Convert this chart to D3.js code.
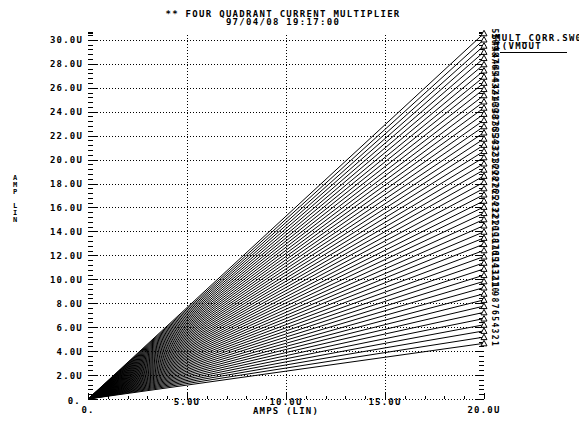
<!DOCTYPE html>
<html>
<head>
<meta charset="utf-8">
<script src="https://cdn.jsdelivr.net/npm/d3@7"></script>
<style>
  body { margin: 0; background: #fff; overflow: hidden; }
  svg { display: block; }
  text { font-family: 'DejaVu Sans Mono', monospace; font-weight: bold; fill: #000; }
</style>
</head>
<body>
<svg id="chart" width="579" height="423"></svg>
<script>
'use strict';

// curve end values (uA) at x = 20uA, curve 1 .. 51
var curveIds = d3.range(1, 52);
var curveEnds = [
  4.65, 5.17, 5.69, 6.20, 6.72, 7.24, 7.76, 8.28, 8.79, 9.31,
  9.83, 10.35, 10.87, 11.38, 11.90, 12.42, 12.94, 13.46, 13.97, 14.49,
  15.01, 15.53, 16.05, 16.56, 17.08, 17.60, 18.12, 18.64, 19.15, 19.67,
  20.19, 20.71, 21.23, 21.74, 22.26, 22.78, 23.30, 23.82, 24.33, 24.85,
  25.37, 25.89, 26.41, 26.92, 27.44, 27.96, 28.48, 29.00, 29.51, 30.03,
  30.55
];
var sweepStart = 0;
var sweepEnd = 20;

var xTicks = [0, 5, 10, 15, 20];
var xTickLabels = ['0.', '5.0U', '10.0U', '15.0U', '20.0U'];
var yTicks = [0, 2, 4, 6, 8, 10, 12, 14, 16, 18, 20, 22, 24, 26, 28, 30];
var yTickLabels = ['0.', '2.0U', '4.0U', '6.0U', '8.0U', '10.0U', '12.0U', '14.0U',
  '16.0U', '18.0U', '20.0U', '22.0U', '24.0U', '26.0U', '28.0U', '30.0U'];

var titleLines = ['** FOUR QUADRANT  CURRENT MULTIPLIER', '97/04/08 19:17:00'];
var legendLines = ['MULT_CORR.SW0', 'I(VMOUT'];

var svg = d3.select('#chart');

var x = d3.scaleLinear().domain([0, 20]).range([88, 484]);
var y = d3.scaleLinear().domain([0, 30.6]).range([399, 32.7]);

var x0 = x.range()[0], x1 = x.range()[1];
var y0 = y.range()[0], y1 = y.range()[1];

// title
svg.append('g').selectAll('text').data(titleLines).enter().append('text')
  .attr('x', 283)
  .attr('y', function (d, i) { return 16.5 + i * 8.5; })
  .attr('text-anchor', 'middle')
  .style('font-size', '9px')
  .style('letter-spacing', '1.3px')
  .text(function (d) { return d; });

// dotted grid
var grid = svg.append('g')
  .attr('stroke', '#000')
  .attr('stroke-width', 1)
  .attr('stroke-dasharray', '1,2')
  .attr('shape-rendering', 'crispEdges');

grid.selectAll('.hgrid').data(yTicks).enter().append('line')
  .attr('x1', x0).attr('x2', x1)
  .attr('y1', function (d) { return Math.round(y(d)) + 0.5; })
  .attr('y2', function (d) { return Math.round(y(d)) + 0.5; });

grid.selectAll('.vgrid').data(xTicks.slice(1, -1)).enter().append('line')
  .attr('x1', function (d) { return Math.round(x(d)) + 0.5; })
  .attr('x2', function (d) { return Math.round(x(d)) + 0.5; })
  .attr('y1', y0).attr('y2', y1);

// tick marks
var ticks = svg.append('g')
  .attr('stroke', '#000')
  .attr('stroke-width', 1)
  .attr('shape-rendering', 'crispEdges');

var yMinor = d3.range(0, 30.61, 0.4);
[x0, x1].forEach(function (edge, side) {
  var dir = side === 0 ? 1 : -1;
  ticks.append('g').selectAll('line').data(yMinor).enter().append('line')
    .attr('x1', edge)
    .attr('x2', function (d) {
      var major = Math.abs(d / 2 - Math.round(d / 2)) < 1e-6;
      return edge + dir * (major ? 9 : 5);
    })
    .attr('y1', function (d) { return Math.round(y(d)) + 0.5; })
    .attr('y2', function (d) { return Math.round(y(d)) + 0.5; });
  // end of axis mark
  ticks.append('line')
    .attr('x1', edge).attr('x2', edge + dir * 5)
    .attr('y1', Math.round(y1) - 0.5).attr('y2', Math.round(y1) - 0.5)
    .attr('stroke-width', 2);
});

var xMinor = d3.range(0, 20.01, 1);
ticks.append('g').selectAll('line').data(xMinor).enter().append('line')
  .attr('x1', function (d) { return Math.round(x(d)) + 0.5; })
  .attr('x2', function (d) { return Math.round(x(d)) + 0.5; })
  .attr('y1', y0)
  .attr('y2', function (d) { return y0 - (d % 5 === 0 ? 6 : 3); });

// tick labels
svg.append('g').selectAll('text').data(yTicks).enter().append('text')
  .attr('x', function (d) { return d === 0 ? 81 : 83; })
  .attr('y', function (d) { return y(d) + 3.5 + (d === 0 ? 1 : 0); })
  .attr('text-anchor', 'end')
  .style('font-size', '9px')
  .style('letter-spacing', '1.2px')
  .text(function (d, i) { return yTickLabels[i]; });

svg.append('g').selectAll('text').data(xTicks).enter().append('text')
  .attr('x', function (d) { return x(d); })
  .attr('y', function (d, i) { return (i === 0 || i === xTicks.length - 1) ? 413 : 405; })
  .attr('text-anchor', 'middle')
  .style('font-size', '9px')
  .style('letter-spacing', '1.2px')
  .text(function (d, i) { return xTickLabels[i]; });

// axis titles
svg.append('text')
  .attr('x', 286).attr('y', 414)
  .attr('text-anchor', 'middle')
  .style('font-size', '9px')
  .style('letter-spacing', '1.2px')
  .text('AMPS (LIN)');

svg.append('g').selectAll('text').data('AMP LIN'.split('')).enter().append('text')
  .attr('x', 15)
  .attr('y', function (d, i) { return 180 + i * 7; })
  .attr('text-anchor', 'middle')
  .style('font-size', '7px')
  .text(function (d) { return d; });

// curves
var line = d3.line()
  .x(function (d) { return x(d[0]); })
  .y(function (d) { return y(d[1]); });

var curves = curveEnds.map(function (v, i) {
  return { id: curveIds[i], pts: [[sweepStart, 0], [sweepEnd, v]] };
});

svg.append('g').selectAll('path').data(curves).enter().append('path')
  .attr('d', function (d) { return line(d.pts); })
  .attr('fill', 'none')
  .attr('stroke', '#000')
  .attr('stroke-width', 1);

// end markers
svg.append('g').selectAll('path').data(curves).enter().append('path')
  .attr('transform', function (d) { return 'translate(' + x(sweepEnd) + ',' + y(d.pts[1][1]) + ')'; })
  .attr('d', 'M-3,2.5L0,-3L3,2.5Z')
  .attr('fill', '#fff')
  .attr('stroke', '#000')
  .attr('stroke-width', 1);

// curve numbers
svg.append('g').selectAll('text').data(curves).enter().append('text')
  .attr('transform', function (d) {
    return 'translate(' + 492 + ',' + y(d.pts[1][1]) + ') rotate(90)';
  })
  .attr('text-anchor', 'middle')
  .style('font-size', '8px')
  .text(function (d) { return d.id; });

// legend
svg.append('g').selectAll('text').data(legendLines).enter().append('text')
  .attr('x', 495)
  .attr('y', function (d, i) { return 41 + i * 8; })
  .style('font-size', '9px')
  .style('letter-spacing', '1.3px')
  .text(function (d) { return d; });

svg.append('line')
  .attr('x1', 500).attr('x2', 567)
  .attr('y1', 52.5).attr('y2', 52.5)
  .attr('stroke', '#000')
  .attr('stroke-width', 1);
</script>
</body>
</html>
